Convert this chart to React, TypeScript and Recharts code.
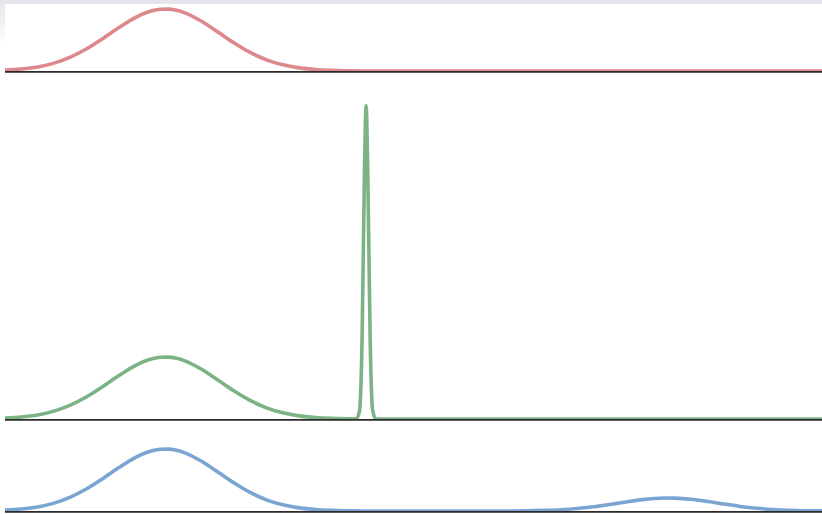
import React from 'react';
import { LineChart, Line, XAxis, YAxis, ReferenceLine } from 'recharts';

// x positions (shared across the three ridges), extra samples around the narrow spike
const xs = [
  0, 2, 4, 6, 8, 10, 12, 14, 16, 17, 18, 19, 20, 21, 22, 24, 26, 28, 30, 32, 34, 36, 38, 40, 42,
  43, 43.4, 43.7, 44, 44.2, 44.4, 44.7, 45, 45.4,
  46, 48, 50, 52, 54, 56, 58, 60, 62, 64, 66, 68, 70, 72, 74, 76, 78, 80,
  81, 82, 84, 86, 88, 90, 92, 94, 96, 98, 100,
];

const redValues = [
  0.014, 0.032, 0.066, 0.127, 0.224, 0.358, 0.526, 0.705, 0.866, 0.928, 0.972, 0.996, 0.998, 0.978, 0.938, 0.806, 0.634, 0.456, 0.3, 0.18, 0.099, 0.05, 0.023, 0.01, 0.004,
  0.002, 0.001, 0.001, 0.001, 0.001, 0, 0, 0, 0,
  0, 0, 0, 0, 0, 0, 0, 0, 0, 0, 0, 0, 0, 0, 0, 0, 0, 0,
  0, 0, 0, 0, 0, 0, 0, 0, 0, 0, 0,
];

const greenValues = [
  0.014, 0.032, 0.066, 0.127, 0.224, 0.358, 0.526, 0.705, 0.866, 0.928, 0.972, 0.996, 0.998, 0.978, 0.938, 0.806, 0.634, 0.456, 0.3, 0.18, 0.099, 0.05, 0.023, 0.01, 0.004,
  0.004, 0.14, 1.25, 4.0, 5.05, 4.0, 1.25, 0.14, 0.002,
  0, 0, 0, 0, 0, 0, 0, 0, 0, 0, 0, 0, 0, 0, 0, 0, 0, 0,
  0, 0, 0, 0, 0, 0, 0, 0, 0, 0, 0,
];

const blueValues = [
  0.014, 0.032, 0.066, 0.127, 0.224, 0.358, 0.526, 0.705, 0.866, 0.928, 0.972, 0.996, 0.998, 0.978, 0.938, 0.806, 0.634, 0.456, 0.3, 0.18, 0.099, 0.05, 0.023, 0.01, 0.004,
  0.002, 0.001, 0.001, 0.001, 0.001, 0, 0, 0, 0,
  0, 0, 0, 0, 0, 0, 0, 0, 0, 0.004, 0.01, 0.02, 0.039, 0.068, 0.105, 0.146, 0.183, 0.206,
  0.21, 0.208, 0.189, 0.154, 0.113, 0.074, 0.044, 0.023, 0.011, 0.005, 0.002,
];

const toRows = (values: number[]) => xs.map((x, i) => ({ x, v: values[i] }));

const PX_PER_UNIT = 62;
const WIDTH = 817;
// baseline sits a hair below the curves' zero level
const BASELINE = -0.9 / PX_PER_UNIT;

const Ridge = ({ values, color, top, plotHeight }) => (
  <div style={{ position: 'absolute', left: 5, top }}>
    <LineChart
      width={WIDTH}
      height={plotHeight + 5}
      data={toRows(values)}
      margin={{ top: 0, right: 0, bottom: 5, left: 0 }}
    >
      <XAxis dataKey="x" type="number" domain={[0, 100]} hide />
      <YAxis hide domain={[0, plotHeight / PX_PER_UNIT]} allowDataOverflow />
      <ReferenceLine y={BASELINE} ifOverflow="visible" stroke="#2b2b2b" strokeWidth={1.6} zIndex={0} />
      <Line
        type="monotone"
        dataKey="v"
        stroke={color}
        strokeWidth={3.6}
        strokeOpacity={0.88}
        dot={false}
        isAnimationActive={false}
        zIndex={1000}
      />
    </LineChart>
  </div>
);

export default function App() {
  return (
    <div style={{ position: 'absolute', left: 0, top: 0, width: 822, height: 514, background: '#fff', overflow: 'hidden' }}>
      <div style={{ position: 'absolute', left: 0, top: 0, width: 822, height: 4, background: '#e4e4ea' }} />
      <div style={{ position: 'absolute', left: 0, top: 0, width: 5, height: 45, background: 'linear-gradient(#e4e4ea, #fff)' }} />
      <Ridge values={redValues} color="#d8777a" top={0} plotHeight={71} />
      <Ridge values={greenValues} color="#69a873" top={80} plotHeight={339} />
      <Ridge values={blueValues} color="#6899cd" top={430} plotHeight={81} />
    </div>
  );
}
